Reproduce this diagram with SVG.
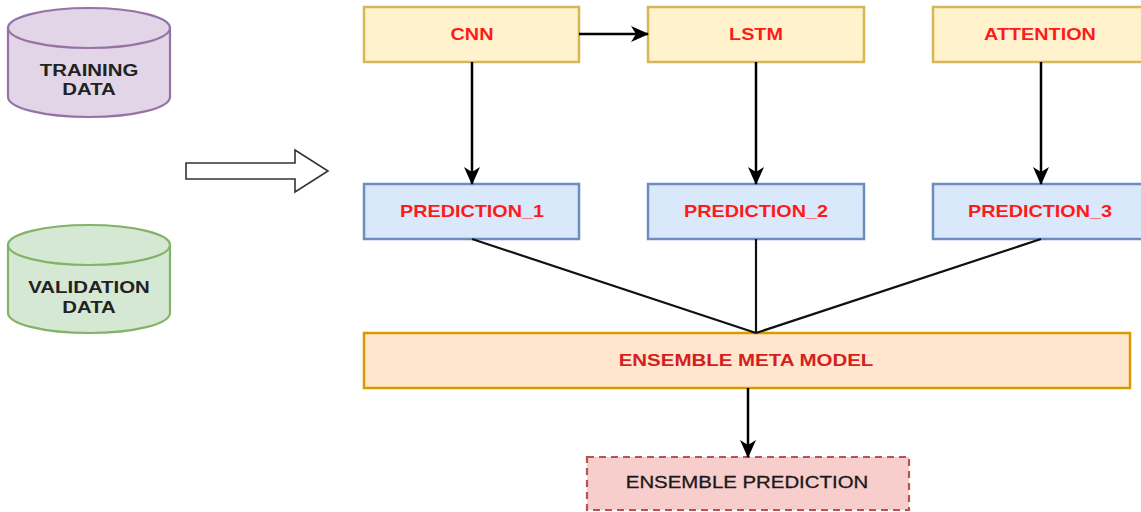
<svg xmlns="http://www.w3.org/2000/svg" width="1141" height="512" viewBox="0 0 1141 512">
<style>
.t{font-family:"Liberation Sans",Arial,sans-serif;text-anchor:middle}
.red{fill:#ff1a1a;font-weight:bold;font-size:16.5px}
.cyl{fill:#222;font-weight:bold;font-size:17px}
.model{fill:#fff2cc;stroke:#d6b656;stroke-width:2.5}
.pred{fill:#dae8fc;stroke:#6c8ebf;stroke-width:2.5}
.conn{stroke:#000;stroke-width:2.5;fill:none}
.line{stroke:#111;stroke-width:2.2;fill:none}
</style>
<defs>
<marker id="ah" markerUnits="userSpaceOnUse" viewBox="0 0 18 16" markerWidth="18" markerHeight="16" refX="17" refY="8" orient="auto">
<path d="M0,0 L18,8 L0,16 L5,8 Z" fill="#000"/>
</marker>
</defs>
<rect width="1141" height="512" fill="#fff"/>

<g id="training-data">
<path d="M8,28 A81,20 0 0 1 170,28 L170,97 A81,20 0 0 1 8,97 Z" fill="#e1d5e7" stroke="#9673a6" stroke-width="2.2"/>
<path d="M8,28 A81,20 0 0 0 170,28" fill="none" stroke="#9673a6" stroke-width="2.2"/>
<text class="t cyl" transform="translate(89,76) scale(1.2,1)">TRAINING</text>
<text class="t cyl" transform="translate(89,95) scale(1.2,1)">DATA</text>
</g>

<g id="validation-data">
<path d="M8,245 A81,20 0 0 1 170,245 L170,313 A81,20 0 0 1 8,313 Z" fill="#d5e8d4" stroke="#82b366" stroke-width="2.2"/>
<path d="M8,245 A81,20 0 0 0 170,245" fill="none" stroke="#82b366" stroke-width="2.2"/>
<text class="t cyl" transform="translate(89,293) scale(1.2,1)">VALIDATION</text>
<text class="t cyl" transform="translate(89,313) scale(1.2,1)">DATA</text>
</g>

<g id="block-arrow">
<polygon points="186,163 295,163 295,150 328,171 295,192 295,179 186,179" fill="#fff" stroke="#333" stroke-width="1.6"/>
</g>

<g id="cnn">
<rect class="model" x="364" y="7" width="215" height="55"/>
<text class="t red" transform="translate(472,40) scale(1.2,1)">CNN</text>
</g>
<g id="lstm">
<rect class="model" x="648" y="7" width="216" height="55"/>
<text class="t red" transform="translate(756,40) scale(1.2,1)">LSTM</text>
</g>
<g id="attention">
<rect class="model" x="933" y="7" width="216" height="55"/>
<text class="t red" transform="translate(1040,40) scale(1.2,1)">ATTENTION</text>
</g>

<g id="prediction-1">
<rect class="pred" x="364" y="184" width="215" height="55"/>
<text class="t red" transform="translate(472,217) scale(1.2,1)">PREDICTION_1</text>
</g>
<g id="prediction-2">
<rect class="pred" x="648" y="184" width="216" height="55"/>
<text class="t red" transform="translate(756,217) scale(1.2,1)">PREDICTION_2</text>
</g>
<g id="prediction-3">
<rect class="pred" x="933" y="184" width="216" height="55"/>
<text class="t red" transform="translate(1040,217) scale(1.2,1)">PREDICTION_3</text>
</g>

<g id="ensemble-meta-model">
<rect x="364" y="333" width="766" height="55" fill="#ffe6cc" stroke="#d79b00" stroke-width="2.5"/>
<text class="t" transform="translate(746,366) scale(1.28,1)" fill="#d42020" font-weight="bold" font-size="16">ENSEMBLE META MODEL</text>
</g>

<g id="ensemble-prediction">
<rect x="587" y="457" width="322" height="53" fill="#f8cecc" stroke="#b85450" stroke-width="2.2" stroke-dasharray="7,5"/>
<text class="t" transform="translate(747,488) scale(1.2,1)" fill="#1a1a1a" stroke="#1a1a1a" stroke-width="0.3" font-size="17">ENSEMBLE PREDICTION</text>
</g>

<g id="connectors">
<line class="conn" x1="579" y1="34" x2="648" y2="34" marker-end="url(#ah)"/>
<line class="conn" x1="472" y1="62" x2="472" y2="184" marker-end="url(#ah)"/>
<line class="conn" x1="756" y1="62" x2="756" y2="184" marker-end="url(#ah)"/>
<line class="conn" x1="1041" y1="62" x2="1041" y2="184" marker-end="url(#ah)"/>
<line class="line" x1="472" y1="239" x2="756" y2="333"/>
<line class="line" x1="756" y1="239" x2="756" y2="333"/>
<line class="line" x1="1041" y1="239" x2="756" y2="333"/>
<line class="conn" x1="748" y1="388" x2="748" y2="457" marker-end="url(#ah)"/>
</g>
</svg>
